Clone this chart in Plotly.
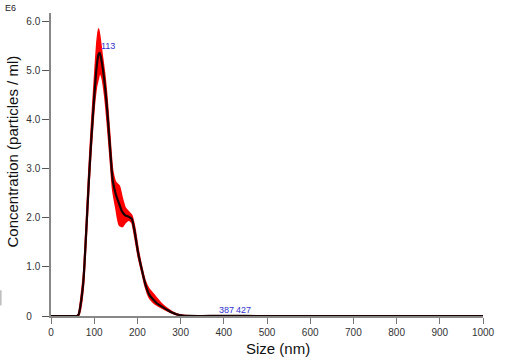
import plotly.graph_objects as go

# Size (nm)
size_nm = [0, 40, 60, 64, 68, 75, 81.6, 87.6, 93, 101, 106, 110, 113, 118, 124, 130, 136, 143,
           150, 158, 165, 172, 180, 187, 194, 202, 210, 218, 227, 236, 245, 255, 268, 280, 292,
           305, 320, 350, 387, 400, 427, 450, 500, 600, 700, 800, 900, 1000]
# Mean concentration (E6 particles / ml)
conc_mean = [0, 0, 0, 0.03, 0.2, 0.71, 1.73, 2.75, 3.56, 4.58, 5.1, 5.33, 5.36, 5.15, 4.75, 4.2, 3.5, 2.75,
             2.48, 2.28, 2.12, 2.05, 2.02, 1.98, 1.7, 1.27, 0.95, 0.66, 0.44, 0.34, 0.26, 0.2, 0.13, 0.07, 0.03,
             0.01, 0.003, 0.0, 0.002, 0.001, 0.002, 0.001, 0, 0, 0, 0, 0, 0]
# Upper / lower error band
conc_upper = [0, 0, 0, 0.05, 0.28, 0.85, 1.9, 2.95, 3.8, 4.9, 5.55, 5.85, 5.7, 5.35, 4.95, 4.4, 3.7, 2.95,
              2.72, 2.65, 2.4, 2.2, 2.12, 2.05, 1.8, 1.35, 1.0, 0.72, 0.55, 0.46, 0.36, 0.26, 0.16, 0.09, 0.04,
              0.015, 0.004, 0.0, 0.003, 0.002, 0.003, 0.002, 0, 0, 0, 0, 0, 0]
conc_lower = [0, 0, 0, 0.01, 0.12, 0.6, 1.58, 2.6, 3.4, 4.35, 4.7, 4.85, 4.95, 4.85, 4.5, 3.95, 3.3, 2.55,
              2.2, 1.85, 1.82, 1.9, 1.95, 1.9, 1.6, 1.2, 0.9, 0.6, 0.38, 0.28, 0.22, 0.17, 0.11, 0.06, 0.02,
              0.005, 0.002, 0.0, 0.001, 0.0, 0.001, 0.0, 0, 0, 0, 0, 0, 0]

peak_labels = [(113, "113"), (387, "387"), (427, "427")]
x_ticks = list(range(0, 1001, 100))
y_ticks = [0, 1, 2, 3, 4, 5, 6]
y_ticktext = ["0\u00a0\u00a0\u00a0", "1.0", "2.0", "3.0", "4.0", "5.0", "6.0"]

FONT = "Arial, Liberation Sans, sans-serif"

fig = go.Figure()
fig.add_trace(go.Scatter(x=size_nm, y=conc_lower, mode="lines",
                         line=dict(color="#ff0000", width=1.5, shape="spline", smoothing=0.6),
                         hoverinfo="skip", showlegend=False))
fig.add_trace(go.Scatter(x=size_nm, y=conc_upper, mode="lines", fill="tonexty",
                         fillcolor="#ff0000",
                         line=dict(color="#ff0000", width=1.5, shape="spline", smoothing=0.6),
                         hoverinfo="skip", showlegend=False))
fig.add_trace(go.Scatter(x=size_nm, y=conc_mean, mode="lines",
                         line=dict(color="#1a0000", width=2.2, shape="spline", smoothing=0.6),
                         showlegend=False))

annotations = []
for xv, txt in peak_labels:
    yv = conc_mean[size_nm.index(xv)]
    annotations.append(dict(x=xv, y=yv, xref="x", yref="y", text=txt, showarrow=False,
                            xanchor="left", yanchor="bottom",
                            yshift=(0 if xv == 113 else -1), xshift=-1,
                            font=dict(family=FONT, size=9, color="#3030d0")))
annotations.append(dict(x=0, y=1, xref="paper", yref="paper", text="E6", showarrow=False,
                        xanchor="left", yanchor="top", xshift=-48, yshift=12,
                        font=dict(family=FONT, size=9, color="#222")))
annotations.append(dict(x=0, y=0.5, xref="paper", yref="paper", text="Concentration (particles / ml)",
                        showarrow=False, textangle=-90, xanchor="center", yanchor="middle",
                        xshift=-39, yshift=13,
                        font=dict(family=FONT, size=15, color="#111")))
annotations.append(dict(x=0.5, y=0, xref="paper", yref="paper", text="Size (nm)",
                        showarrow=False, xanchor="center", yanchor="middle",
                        xshift=11, yshift=-32,
                        font=dict(family=FONT, size=15, color="#111")))

fig.update_layout(
    width=506, height=362,
    margin=dict(l=51, r=23, t=13, b=46),
    paper_bgcolor="white", plot_bgcolor="white",
    font=dict(family=FONT, size=10, color="#333"),
    annotations=annotations,
    shapes=[dict(type="line", xref="paper", yref="paper", x0=-0.116, x1=-0.116, y0=0.035, y1=0.085,
                 line=dict(color="#999", width=1))],
)
fig.update_xaxes(range=[0, 1000], tickvals=x_ticks, ticks="outside", ticklen=6, tickcolor="#777",
                 showline=True, linecolor="#888", linewidth=1.5, showgrid=False, zeroline=False,
                 tickfont=dict(family=FONT, size=10, color="#333"))
fig.update_yaxes(range=[0, 6.17], tickvals=y_ticks, ticktext=y_ticktext, ticks="outside", ticklen=7,
                 tickcolor="#555", showline=True, linecolor="#888", linewidth=1.5, showgrid=False,
                 zeroline=False, tickfont=dict(family=FONT, size=10, color="#333"))

fig.write_html("out.html", config={"displayModeBar": False},
               post_script="document.body.style.margin='0';document.body.style.overflow='hidden';")
